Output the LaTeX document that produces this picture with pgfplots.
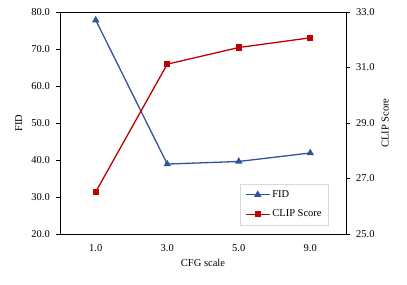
\documentclass[border=0pt]{standalone}
\usepackage{pgfplots}
\pgfplotsset{compat=1.18}
\usepackage{fontspec}
\setmainfont{Liberation Serif}
\definecolor{fidblue}{RGB}{47,85,151}
\definecolor{clipred}{RGB}{192,0,0}
\begin{document}
\fontsize{10.5}{12}\selectfont
\begin{tikzpicture}
\path (0,0) rectangle (407pt,284pt);
\pgfplotsset{
  every axis/.append style={
    scale only axis, width=286pt, height=222pt,
    at={(60pt,50pt)}, anchor=south west,
    xmin=-0.5, xmax=3.5,
    font=\fontsize{10.5}{12}\selectfont,
    tick align=outside, major tick length=3.5pt,
    /pgf/number format/assume math mode=true,
    /pgf/number format/.cd, fixed, fixed zerofill, precision=1,
  },
}
\begin{axis}[
  ymin=20, ymax=80, ytick={20,30,...,80},
  ytick pos=left,
  xtick={0,1,2,3}, xticklabels={1.0,3.0,5.0,9.0},
  x tick style={draw=none},
  xticklabel style={yshift=-3pt},
  yticklabel style={xshift=-3pt},
  xlabel={CFG scale}, ylabel={FID},
  xlabel style={yshift=-1pt},
  ylabel style={yshift=2pt},
  axis line style={line width=0.8pt},
  y tick style={line width=0.6pt, black},
]
\addplot[color=fidblue, line width=1.3pt, mark=triangle*, mark size=3pt]
  coordinates {(0,77.8) (1,38.9) (2,39.6) (3,41.9)};
\end{axis}
\begin{axis}[
  ymin=25, ymax=33, ytick={25,27,...,33},
  axis y line*=right, axis x line=none,
  ylabel={CLIP Score},
  yticklabel style={xshift=3pt},
  ylabel style={yshift=0pt},
  axis line style={line width=0.8pt, -},
  y tick style={line width=0.6pt, black},
  legend style={draw=gray!30, at={(0.94,0.04)}, anchor=south east,
    row sep=7pt, inner xsep=5pt, inner ysep=4.5pt, legend cell align=left},
  legend image code/.code={\draw[mark repeat=2,mark phase=2] plot coordinates {(0cm,0cm) (0.42cm,0cm) (0.84cm,0cm)};},
]
\addlegendimage{color=fidblue, line width=1.3pt, mark=triangle*, mark size=3pt}
\addlegendentry{FID}
\addplot[color=clipred, line width=1.3pt, mark=square*, mark size=2.5pt]
  coordinates {(0,26.52) (1,31.12) (2,31.72) (3,32.07)};
\addlegendentry{CLIP Score}
\end{axis}
\end{tikzpicture}
\end{document}
